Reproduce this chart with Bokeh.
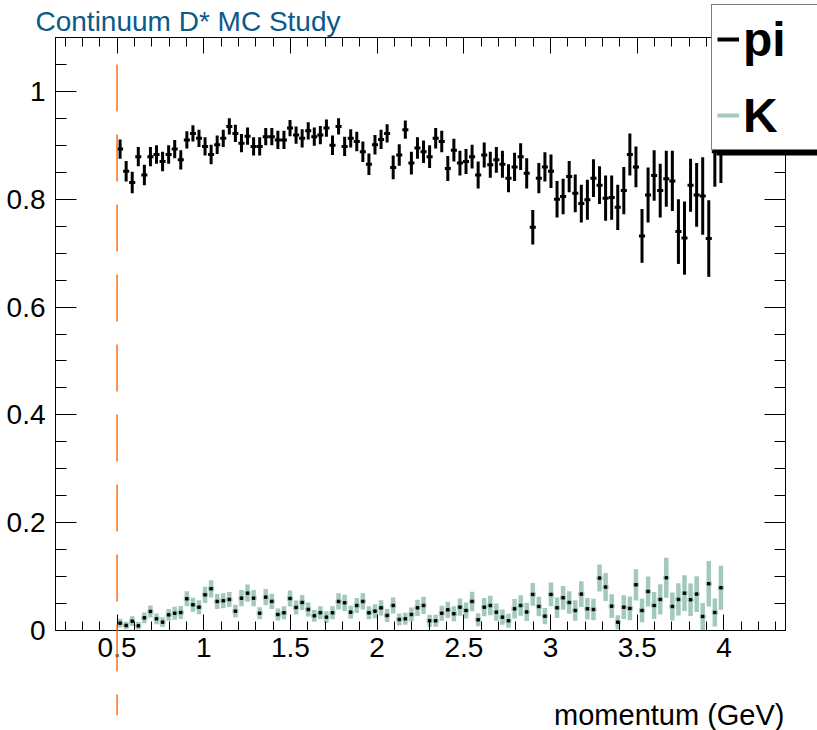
import numpy as np
from bokeh.plotting import figure
from bokeh.models import (Range1d, SingleIntervalTicker, LinearAxis, CustomJSTickFormatter,
                          Label, Legend, LegendItem, ColumnDataSource, BoxAnnotation)
from bokeh.embed import file_html
from bokeh.resources import INLINE

# ---------------- data ----------------
TITLE = "Continuum D* MC Study"
X_LABEL = "momentum (GeV)"
SERIES_NAMES = ["pi", "K"]
P_MIN, P_MAX, N_BINS = 0.5, 4.0, 100
CUT_MOMENTUM = 0.5

PI_EFF = [0.893, 0.852, 0.831, 0.879, 0.845, 0.879, 0.883, 0.870, 0.883, 0.893,
          0.873, 0.910, 0.922, 0.913, 0.898, 0.883, 0.901, 0.913, 0.935, 0.922,
          0.904, 0.917, 0.898, 0.898, 0.916, 0.916, 0.910, 0.910, 0.932, 0.919,
          0.913, 0.927, 0.916, 0.919, 0.932, 0.900, 0.935, 0.898, 0.913, 0.907,
          0.888, 0.865, 0.901, 0.911, 0.922, 0.859, 0.882, 0.929, 0.867, 0.895,
          0.888, 0.879, 0.913, 0.907, 0.857, 0.891, 0.867, 0.870, 0.879, 0.845,
          0.882, 0.864, 0.873, 0.865, 0.839, 0.860, 0.879, 0.848, 0.748, 0.839,
          0.860, 0.852, 0.800, 0.805, 0.842, 0.811, 0.792, 0.799, 0.839, 0.826,
          0.802, 0.803, 0.785, 0.816, 0.883, 0.860, 0.732, 0.808, 0.844, 0.816,
          0.838, 0.834, 0.740, 0.728, 0.826, 0.808, 0.806, 0.727, 0.888, 0.895]
PI_ERR = [0.018, 0.019, 0.020, 0.018, 0.019, 0.018, 0.017, 0.018, 0.017, 0.017,
          0.018, 0.016, 0.015, 0.016, 0.017, 0.018, 0.017, 0.016, 0.015, 0.016,
          0.017, 0.016, 0.017, 0.017, 0.016, 0.016, 0.017, 0.017, 0.015, 0.016,
          0.017, 0.016, 0.017, 0.017, 0.016, 0.018, 0.015, 0.018, 0.017, 0.018,
          0.019, 0.020, 0.018, 0.018, 0.017, 0.022, 0.020, 0.017, 0.021, 0.020,
          0.021, 0.021, 0.019, 0.020, 0.023, 0.021, 0.023, 0.023, 0.022, 0.025,
          0.023, 0.024, 0.024, 0.025, 0.026, 0.026, 0.025, 0.028, 0.032, 0.028,
          0.027, 0.031, 0.034, 0.033, 0.029, 0.035, 0.035, 0.037, 0.035, 0.035,
          0.042, 0.041, 0.042, 0.044, 0.039, 0.038, 0.050, 0.051, 0.047, 0.050,
          0.052, 0.056, 0.060, 0.068, 0.049, 0.059, 0.072, 0.071, 0.065, 0.065]
K_EFF = [0.0136, 0.0093, 0.0173, 0.0087, 0.0235, 0.0353, 0.0217, 0.0155, 0.0290, 0.0320,
         0.0334, 0.0588, 0.0477, 0.0433, 0.0662, 0.0774, 0.0539, 0.0551, 0.0576, 0.0359,
         0.0600, 0.0693, 0.0600, 0.0320, 0.0619, 0.0540, 0.0297, 0.0328, 0.0594, 0.0427,
         0.0520, 0.0390, 0.0272, 0.0330, 0.0248, 0.0328, 0.0539, 0.0514, 0.0340, 0.0464,
         0.0539, 0.0328, 0.0359, 0.0420, 0.0279, 0.0464, 0.0204, 0.0217, 0.0297, 0.0420,
         0.0464, 0.0180, 0.0180, 0.0320, 0.0384, 0.0310, 0.0433, 0.0371, 0.0539, 0.0198,
         0.0433, 0.0464, 0.0340, 0.0248, 0.0180, 0.0402, 0.0464, 0.0344, 0.0669, 0.0446,
         0.0266, 0.0669, 0.0420, 0.0607, 0.0520, 0.0371, 0.0675, 0.0402, 0.0390, 0.0972,
         0.0805, 0.0452, 0.0155, 0.0433, 0.0409, 0.0848, 0.0371, 0.0724, 0.0464, 0.0576,
         0.0978, 0.0446, 0.0576, 0.0693, 0.0570, 0.0675, 0.0260, 0.0867, 0.0334, 0.0793]
K_ERR = [0.008, 0.007, 0.009, 0.007, 0.010, 0.011, 0.010, 0.009, 0.011, 0.012,
         0.012, 0.014, 0.013, 0.013, 0.015, 0.016, 0.014, 0.014, 0.014, 0.012,
         0.015, 0.016, 0.015, 0.011, 0.015, 0.014, 0.011, 0.012, 0.015, 0.013,
         0.014, 0.013, 0.011, 0.012, 0.011, 0.012, 0.015, 0.015, 0.012, 0.014,
         0.015, 0.012, 0.013, 0.014, 0.012, 0.015, 0.011, 0.011, 0.013, 0.015,
         0.016, 0.011, 0.011, 0.014, 0.015, 0.014, 0.016, 0.015, 0.018, 0.012,
         0.017, 0.018, 0.016, 0.014, 0.013, 0.018, 0.019, 0.017, 0.021, 0.018,
         0.015, 0.022, 0.019, 0.022, 0.021, 0.019, 0.024, 0.020, 0.020, 0.025,
         0.026, 0.022, 0.013, 0.022, 0.022, 0.029, 0.022, 0.028, 0.025, 0.028,
         0.037, 0.026, 0.030, 0.033, 0.030, 0.033, 0.025, 0.042, 0.026, 0.041]

# ---------------- style / layout ----------------
FONT = "Liberation Sans"
PI_COLOR = "black"
K_COLOR = "#a3c8bc"
TITLE_COLOR = "#0a5a87"
CUT_COLOR = "#ff6f0f"

W, H = 817, 730
BL, BR, BT, BB = 55, 32, 37, 100          # frame borders (px)
X0, X1 = 0.145, 4.355                     # visible momentum range
Y0, Y1 = 0.0, 1.1                         # visible efficiency range
FW, FH = W - BL - BR, H - BT - BB

edges = np.linspace(P_MIN, P_MAX, N_BINS + 1)
centers = 0.5 * (edges[:-1] + edges[1:])
half = 0.5 * (edges[1:] - edges[:-1])

pi = np.array(PI_EFF); pie = np.array(PI_ERR)
k = np.array(K_EFF); ke = np.array(K_ERR)

# ---------------- main plot ----------------
p = figure(width=W, height=H, x_range=Range1d(X0, X1), y_range=Range1d(Y0, Y1),
           output_backend="svg", toolbar_location=None,
           x_axis_location=None, y_axis_location=None,
           min_border_left=BL, min_border_right=BR, min_border_top=BT, min_border_bottom=BB)
p.grid.visible = False
p.outline_line_color = "black"
p.background_fill_color = "white"
p.border_fill_color = "white"

num_fmt = CustomJSTickFormatter(code="return (Math.round(tick*1000)/1000).toString();")
empty_fmt = CustomJSTickFormatter(code="return '';")


def make_axis(interval, minor, fmt, tin, mtin, show_labels):
    ax = LinearAxis(ticker=SingleIntervalTicker(interval=interval, num_minor_ticks=minor), formatter=fmt)
    ax.major_tick_in = tin
    ax.major_tick_out = 0
    ax.minor_tick_in = mtin
    ax.minor_tick_out = 0
    ax.axis_line_color = "black"
    ax.major_tick_line_color = "black"
    ax.minor_tick_line_color = "black"
    ax.major_label_text_font = FONT
    ax.major_label_text_font_size = "28px" if show_labels else "1px"
    ax.major_label_text_color = "black"
    if not show_labels:
        ax.major_label_standoff = 0
    return ax


xb = make_axis(0.5, 5, num_fmt, 16, 9, True)
xb.major_label_standoff = 7
xt = make_axis(0.5, 5, empty_fmt, 16, 9, False)
yl = make_axis(0.2, 4, num_fmt, 21, 11, True)
yl.major_label_standoff = 10
yr = make_axis(0.2, 4, empty_fmt, 21, 11, False)
p.add_layout(xb, "below")
p.add_layout(xt, "above")
p.add_layout(yl, "left")
p.add_layout(yr, "right")

# pi series
src_pi = ColumnDataSource(dict(x=centers, y=pi, lo=pi - pie, hi=pi + pie,
                               xl=centers - half, xr=centers + half))
p.segment(x0="x", y0="lo", x1="x", y1="hi", source=src_pi, line_color=PI_COLOR, line_width=3)
p.segment(x0="xl", y0="y", x1="xr", y1="y", source=src_pi, line_color=PI_COLOR, line_width=3)

# K series
src_k = ColumnDataSource(dict(x=centers, y=k, lo=k - ke, hi=k + ke,
                              xl=centers - half, xr=centers + half))
p.segment(x0="x", y0="lo", x1="x", y1="hi", source=src_k, line_color=K_COLOR, line_width=4.5)
p.segment(x0="xl", y0="y", x1="xr", y1="y", source=src_k, line_color=K_COLOR, line_width=4.5)
p.scatter(x="x", y="y", source=src_k, marker="square", size=2.5, color="black")

# ---------------- overlay (same data scale, whole canvas as frame) ----------------
sx = (X1 - X0) / FW
sy = (Y1 - Y0) / FH
q = figure(width=W, height=H,
           x_range=Range1d(X0 - BL * sx, X1 + BR * sx),
           y_range=Range1d(Y0 - BB * sy, Y1 + BT * sy),
           output_backend="svg", toolbar_location=None,
           x_axis_location=None, y_axis_location=None,
           min_border=0, min_border_left=0, min_border_right=0,
           min_border_top=0, min_border_bottom=0)
q.grid.visible = False
q.outline_line_color = None
q.background_fill_alpha = 0
q.border_fill_alpha = 0
q.styles = {"position": "absolute", "top": "0px", "left": "0px"}

# cut line (extends below the axis like the original)
q.segment(x0=[CUT_MOMENTUM], y0=[1.05], x1=[CUT_MOMENTUM], y1=[-0.157],
          line_color=CUT_COLOR, line_width=1.5, line_dash="47 23")

# legend proxies (not drawn in the plot area)
pi_leg = q.line(x=[np.nan, np.nan], y=[np.nan, np.nan], line_color=PI_COLOR, line_width=4)
k_leg = q.line(x=[np.nan, np.nan], y=[np.nan, np.nan], line_color=K_COLOR, line_width=4)

# legend shadow (ROOT style)
q.add_layout(BoxAnnotation(left=716, right=W + 30, bottom=H - 155, top=H - 12,
                           left_units="screen", right_units="screen",
                           bottom_units="screen", top_units="screen",
                           fill_color="black", fill_alpha=1.0, line_color=None))

q.add_layout(Legend(items=[LegendItem(label=SERIES_NAMES[0], renderers=[pi_leg]),
                           LegendItem(label=SERIES_NAMES[1], renderers=[k_leg])],
                    location=(711, 580), orientation="vertical",
                    background_fill_color="white", background_fill_alpha=1.0,
                    border_line_color="black", border_line_width=1,
                    padding=5, spacing=18, margin=0,
                    glyph_width=22, glyph_height=58, label_height=58, label_width=120,
                    label_standoff=4, label_text_font=FONT, label_text_font_size="48px",
                    label_text_font_style="bold", label_text_color="black"))

q.add_layout(Label(x=35, y=H - 21, x_units="screen", y_units="screen", text=TITLE,
                   text_font=FONT, text_font_size="28px", text_color=TITLE_COLOR,
                   text_baseline="alphabetic", text_align="left"))
q.add_layout(Label(x=W - BR - 1, y=H - 714, x_units="screen", y_units="screen", text=X_LABEL,
                   text_font=FONT, text_font_size="29px", text_color="black",
                   text_baseline="alphabetic", text_align="right"))

open("out.html", "w").write(file_html([p, q], INLINE))
